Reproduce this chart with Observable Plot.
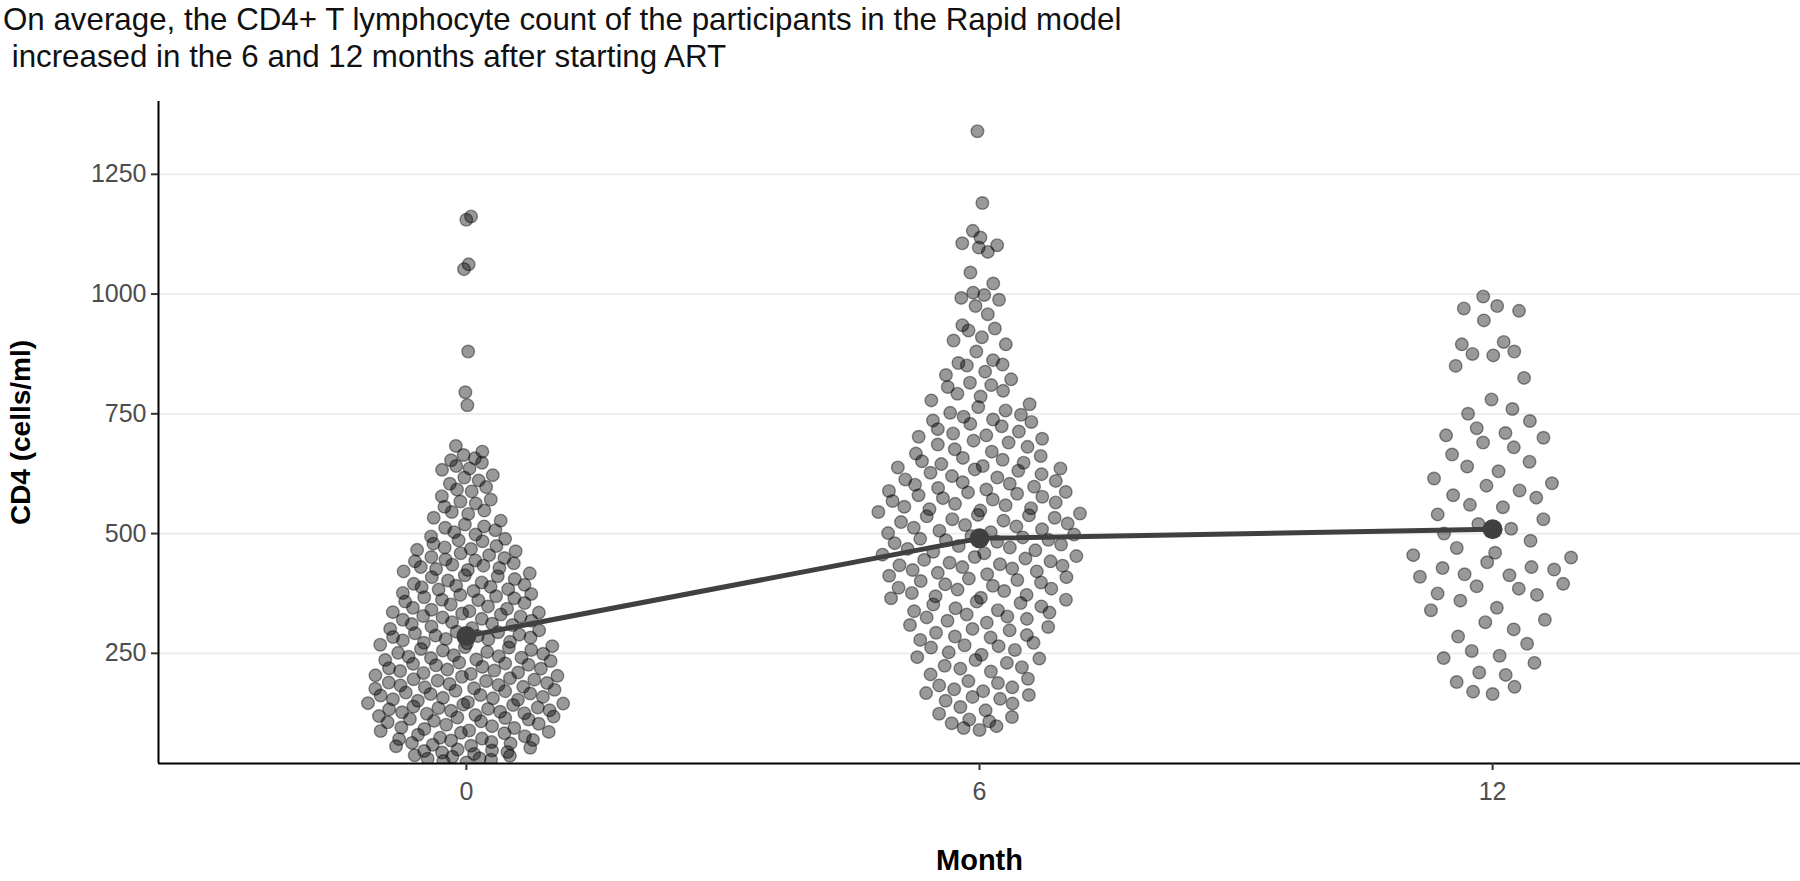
<!DOCTYPE html>
<html><head><meta charset="utf-8">
<script src="https://cdn.jsdelivr.net/npm/d3@7"></script>
<script src="https://cdn.jsdelivr.net/npm/@observablehq/plot@0.6"></script>
<style>
body{margin:0;background:#fff;font-family:"Liberation Sans",Arial,sans-serif;}
#title{height:80px;font-size:31.3px;line-height:37px;padding-left:3px;box-sizing:border-box;padding-top:1px;color:#111;white-space:pre;}
</style></head><body>
<div id="title">On average, the CD4+ T lymphocyte count of the participants in the Rapid model
 increased in the 6 and 12 months after starting ART</div>
<div id="chart"></div>
<script>
const months = [0, 6, 12];
const yTicks = [250, 500, 750, 1000, 1250];
const meanCD4 = [286, 490, 509];

const month0 = [1162, 1155, 1062, 1052, 880, 795, 768,
  683, 671, 664, 657, 653, 648,
  641, 636, 622, 617, 611, 604, 633,
  597, 588, 578, 571, 563, 556, 592, 567,
  548, 541, 533, 527, 519, 512, 507, 503, 545, 515,
  498, 494, 489, 484, 479, 474, 468, 463, 459, 455, 451, 486, 471, 466,
  449, 446, 442, 438, 433, 430, 426, 421, 417, 413, 409, 405, 402, 444, 435, 424, 411, 428,
  398, 395, 391, 388, 384, 380, 376, 372, 369, 365, 362, 358, 355, 352, 393, 383, 374, 361, 389, 367,
  348, 345, 341, 338, 335, 331, 328, 325, 322, 318, 315, 312, 309, 306, 303, 301, 343, 333, 320, 311, 336, 327,
  298, 295, 292, 289, 286, 283, 280, 277, 274, 271, 268, 265, 262, 259, 256, 253, 251, 294, 284, 272, 263, 257, 287, 279,
  249, 246, 243, 240, 237, 234, 231, 228, 225, 222, 219, 216, 213, 210, 207, 204, 201, 244, 236, 226, 218, 209, 241, 229, 214, 203,
  198, 195, 192, 189, 186, 183, 180, 177, 174, 171, 168, 165, 162, 159, 156, 153, 151, 193, 184, 172, 163, 157, 188, 176, 196, 179, 166, 154,
  148, 145, 142, 139, 136, 133, 130, 127, 124, 121, 118, 115, 112, 109, 106, 103, 143, 131, 119, 108, 137, 125, 146, 134, 113, 101, 128, 116,
  98, 95, 92, 89, 86, 83, 80, 77, 74, 71, 68, 65, 62, 59, 56, 53, 88, 72, 94, 63, 84, 57, 69,
  49, 46, 43, 40, 37, 34, 31, 28, 25, 22, 44, 36, 47, 30];

const month6 = [1340, 1190,
  1132, 1118, 1106, 1102, 1097, 1088,
  1045, 1022, 1003,
  998, 992, 988, 975, 958,
  935, 928, 924, 910, 903,
  895, 880, 862, 856, 853, 851,
  838, 831, 822, 815, 810, 806,
  798, 792, 786, 778, 770, 764, 757, 752,
  748, 744, 738, 733, 729, 724, 718, 713, 709, 705, 702, 736,
  698, 694, 690, 686, 681, 676, 671, 667, 662, 658, 654, 651,
  648, 645, 641, 638, 634, 631, 627, 624, 620, 617, 613, 610, 607, 604, 602, 636,
  598, 595, 592, 589, 586, 583, 580, 577, 574, 571, 568, 565, 562, 559, 556, 553, 551, 587,
  548, 545, 542, 539, 536, 533, 530, 527, 524, 521, 518, 515, 512, 509, 506, 503, 501, 538,
  498, 495, 492, 489, 486, 483, 480, 477, 474, 471, 468, 465, 462, 459, 456, 453, 451, 487,
  448, 445, 442, 439, 436, 433, 430, 427, 424, 421, 418, 415, 412, 409, 406, 403, 401, 434,
  398, 394, 391, 387, 383, 380, 376, 372, 369, 365, 362, 358, 355, 352, 385, 366,
  348, 344, 340, 335, 331, 327, 322, 318, 314, 309, 305, 301, 338, 325,
  298, 293, 288, 283, 278, 272, 267, 262, 257, 252, 285, 265,
  247, 242, 236, 230, 224, 218, 212, 206, 239, 221,
  197, 192, 188, 183, 179, 175, 171, 167, 163, 159, 155, 151,
  145, 138, 131, 124, 117, 112, 108, 104,
  98, 94, 90];

const month12 = [995, 975, 970, 965, 945, 900, 895, 880, 875, 872, 850, 825, 780, 760, 750, 735, 720,
  710, 705, 700, 690, 680, 665, 650, 640, 630, 615, 605, 600, 590, 580, 575, 560, 555, 540, 530,
  520, 510, 500, 485, 470, 460, 455, 450, 440, 430, 428, 425, 415, 413, 410, 395, 390, 385, 375,
  372, 360, 345, 340, 320, 315, 300, 285, 270, 255, 245, 240, 230, 210, 205, 190, 180, 170, 165];

function vdc(i) { let r = 0, f = 0.5; while (i > 0) { r += f * (i % 2); i = Math.floor(i / 2); f /= 2; } return r; }
function quasi(values, center, width) {
  const n = values.length;
  const sorted = values.slice().sort(d3.ascending);
  const sd = d3.deviation(values);
  const iqr = d3.quantile(sorted, 0.75) - d3.quantile(sorted, 0.25);
  const bw = 0.5 * 0.9 * Math.min(sd, iqr / 1.34) * Math.pow(n, -0.2);
  const dens = v => d3.sum(values, u => Math.exp(-0.5 * ((v - u) / bw) ** 2));
  const grid = d3.range(d3.min(values), d3.max(values), 2);
  const mx = d3.max(grid, dens);
  const order = d3.range(n).sort((a, b) => values[a] - values[b] || a - b);
  const rank = new Array(n); order.forEach((idx, r) => rank[idx] = r + 1);
  return values.map((v, i) => ({month: center, x: center + (vdc(rank[i]) * 2 - 1) * Math.min(1, dens(v) / mx) * width, y: v}));
}
const points = [
  ...quasi(month0, months[0], 1.17),
  ...quasi(month6, months[1], 1.2),
  ...quasi(month12, months[2], 1.05)
];
const means = months.map((m, i) => ({month: m, mean: meanCD4[i]}));

const chart = Plot.plot({
  width: 1800, height: 801,
  marginTop: 21, marginBottom: 118, marginLeft: 158, marginRight: 0,
  style: {fontFamily: "Liberation Sans, Arial, sans-serif", background: "#fff"},
  x: {domain: [-3.6, 15.6]},
  y: {domain: [20, 1402]},
  marks: [
    Plot.gridY(yTicks, {stroke: "#ebebeb", strokeOpacity: 1, strokeWidth: 1.8}),
    Plot.dot(points, {x: "x", y: "y", r: 6.3, fill: "#000", fillOpacity: 0.4, stroke: "#000", strokeOpacity: 0.42, strokeWidth: 1.4, clip: true}),
    Plot.line(means, {x: "month", y: "mean", stroke: "#404040", strokeWidth: 5}),
    Plot.dot(means, {x: "month", y: "mean", r: 10, fill: "#404040"}),
    Plot.ruleX([-3.6], {stroke: "#000", strokeWidth: 2}),
    Plot.ruleY([20], {stroke: "#000", strokeWidth: 2}),
    Plot.axisY({ticks: yTicks, tickFormat: d => String(d), tickSize: 7, tickPadding: 5, fontSize: 25, stroke: "#333", fill: "#4d4d4d", strokeWidth: 2, label: null}),
    Plot.axisX({ticks: months, tickFormat: d => String(d), tickSize: 7, tickPadding: 12, fontSize: 25, stroke: "#333", fill: "#4d4d4d", strokeWidth: 2, label: null}),
    Plot.text(["CD4 (cells/ml)"], {frameAnchor: "left", dx: -137, rotate: -90, textAnchor: "middle", fontWeight: "bold", fontSize: 28, fill: "#000"}),
    Plot.text(["Month"], {frameAnchor: "bottom", dy: 106, textAnchor: "middle", fontWeight: "bold", fontSize: 29, fill: "#000"})
  ]
});
document.getElementById("chart").appendChild(chart);
</script>
</body></html>
